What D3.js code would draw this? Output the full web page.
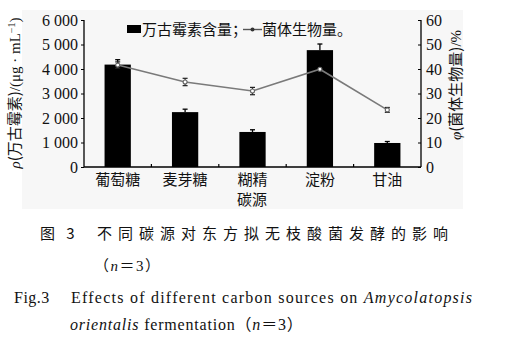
<!DOCTYPE html>
<html>
<head>
<meta charset="utf-8">
<script src="https://cdn.jsdelivr.net/npm/d3@7"></script>
<style>
  body { margin: 0; background: #fff; }
</style>
</head>
<body>
<div id="chart"></div>
<script>
// data
const categories = ["葡萄糖", "麦芽糖", "糊精", "淀粉", "甘油"];
const vancomycin = [4180, 2240, 1430, 4770, 980];      // μg/mL
const vancomycinErr = [200, 120, 90, 250, 60];
const biomass = [41.6, 34.7, 31.0, 39.9, 23.3];          // %
const biomassErr = [1.3, 1.5, 1.5, 0, 1.0];
const leftTicks = [0, 1000, 2000, 3000, 4000, 5000, 6000];
const rightTicks = [0, 10, 20, 30, 40, 50, 60];

const SERIF = "Liberation Serif, serif";
const CJK = "Noto Sans CJK SC, sans-serif";

const W = 509, H = 342;
const svg = d3.select("#chart").append("svg")
  .attr("width", W).attr("height", H);

// faint grey of the scanned plot area
svg.append("rect")
  .attr("x", 22).attr("y", 10).attr("width", 441).attr("height", 199)
  .attr("fill", "#f7f7f7");

const x0 = 84, x1 = 421, yBottom = 167, yTop = 20;

const x = d3.scaleBand().domain(categories).range([x0, x1]).padding(0);
const yL = d3.scaleLinear().domain([0, 6000]).range([yBottom, yTop]);
const yR = d3.scaleLinear().domain([0, 60]).range([yBottom, yTop]);
const fmt = d => d3.format(",")(d).replace(",", " ");

// left axis
const axL = svg.append("g")
  .attr("transform", "translate(" + x0 + ",0)")
  .call(d3.axisLeft(yL).tickValues(leftTicks).tickFormat(fmt).tickSize(3).tickPadding(3));
axL.attr("font-family", SERIF);
axL.select(".domain").attr("stroke", "#000").attr("stroke-width", 1.3)
  .attr("d", "M0," + yTop + "V" + yBottom);
axL.selectAll("text").attr("font-size", 16).attr("fill", "#111");

// right axis, ticks pointing inward
const axR = svg.append("g")
  .attr("transform", "translate(" + x1 + ",0)")
  .call(d3.axisRight(yR).tickValues(rightTicks).tickSize(0).tickPadding(5));
axR.attr("font-family", SERIF);
axR.select(".domain").attr("stroke", "#000").attr("stroke-width", 1.3)
  .attr("d", "M0," + yTop + "V" + yBottom);
axR.selectAll(".tick line").attr("x2", -3).attr("stroke", "#000");
axR.selectAll("text").attr("font-size", 16).attr("fill", "#111");

// bars
const bw = x.bandwidth() * 0.39;
svg.selectAll(".bar")
  .data(categories)
  .enter().append("rect")
  .attr("class", "bar")
  .attr("x", d => x(d) + (x.bandwidth() - bw) / 2)
  .attr("y", (d, i) => yL(vancomycin[i]))
  .attr("width", bw)
  .attr("height", (d, i) => yBottom - yL(vancomycin[i]))
  .attr("fill", "#000");

// bar error bars (upper half visible above bar)
categories.forEach((c, i) => {
  const cx = x(c) + x.bandwidth() / 2;
  const top = yL(vancomycin[i] + vancomycinErr[i]);
  svg.append("line").attr("x1", cx).attr("x2", cx)
    .attr("y1", yL(vancomycin[i])).attr("y2", top)
    .attr("stroke", "#000").attr("stroke-width", 1.3);
  svg.append("line").attr("x1", cx - 2.5).attr("x2", cx + 2.5)
    .attr("y1", top).attr("y2", top)
    .attr("stroke", "#000").attr("stroke-width", 1.3);
});

// x axis
const axX = svg.append("g")
  .attr("transform", "translate(0," + yBottom + ")")
  .call(d3.axisBottom(x).tickSize(0).tickPadding(7));
axX.attr("font-family", CJK);
axX.select(".domain").attr("stroke", "#000").attr("stroke-width", 1.3)
  .attr("d", "M" + x0 + ",0H" + x1);
axX.selectAll("text").attr("font-size", 15).attr("fill", "#111");
// boundary ticks pointing up
categories.slice(1).forEach(c => {
  svg.append("line").attr("x1", x(c)).attr("x2", x(c))
    .attr("y1", yBottom).attr("y2", yBottom - 3)
    .attr("stroke", "#000").attr("stroke-width", 1.2);
});

// biomass line
const line = d3.line()
  .x((d, i) => x(categories[i]) + x.bandwidth() / 2)
  .y(d => yR(d));
svg.append("path").datum(biomass)
  .attr("d", line).attr("fill", "none")
  .attr("stroke", "#7a7a7a").attr("stroke-width", 1.6);

categories.forEach((c, i) => {
  const cx = x(c) + x.bandwidth() / 2;
  if (biomassErr[i] > 0) {
    const a = yR(biomass[i] + biomassErr[i]), b = yR(biomass[i] - biomassErr[i]);
    svg.append("line").attr("x1", cx).attr("x2", cx).attr("y1", a).attr("y2", b)
      .attr("stroke", "#222").attr("stroke-width", 1.1);
    [a, b].forEach(yy => svg.append("line")
      .attr("x1", cx - 2.5).attr("x2", cx + 2.5).attr("y1", yy).attr("y2", yy)
      .attr("stroke", "#222").attr("stroke-width", 1.2));
  }
  svg.append("circle").attr("cx", cx).attr("cy", yR(biomass[i])).attr("r", 2)
    .attr("fill", "#fff").attr("stroke", "#666").attr("stroke-width", 1.1);
});

// legend
svg.append("rect").attr("x", 127).attr("y", 25).attr("width", 14).attr("height", 8).attr("fill", "#000");
svg.append("text").attr("x", 142).attr("y", 35).attr("font-size", 15)
  .attr("font-family", CJK).attr("fill", "#111")
  .text("万古霉素含量；");
svg.append("line").attr("x1", 243).attr("x2", 262).attr("y1", 29.5).attr("y2", 29.5)
  .attr("stroke", "#555").attr("stroke-width", 1.4);
svg.append("circle").attr("cx", 252.5).attr("cy", 29.5).attr("r", 2).attr("fill", "#333");
svg.append("text").attr("x", 262).attr("y", 35).attr("font-size", 15)
  .attr("font-family", CJK).attr("fill", "#111")
  .text("菌体生物量。");

// axis titles
const tL = svg.append("text")
  .attr("transform", "translate(20,93) rotate(-90)")
  .attr("text-anchor", "middle").attr("font-size", 15)
  .attr("font-family", SERIF).attr("fill", "#111");
tL.append("tspan").attr("font-style", "italic").text("ρ");
tL.append("tspan").attr("font-family", CJK).text("(万古霉素)");
tL.append("tspan").text("/(μg · mL");
tL.append("tspan").attr("dy", -5).attr("font-size", 10).text("−1");
tL.append("tspan").attr("dy", 5).text(")");

const tR = svg.append("text")
  .attr("transform", "translate(461,85) rotate(-90)")
  .attr("text-anchor", "middle").attr("font-size", 15)
  .attr("font-family", SERIF).attr("fill", "#111");
tR.append("tspan").attr("font-style", "italic").text("φ");
tR.append("tspan").attr("font-family", CJK).text("(菌体生物量)");
tR.append("tspan").text("/%");

svg.append("text").attr("x", 252).attr("y", 205).attr("text-anchor", "middle")
  .attr("font-size", 15).attr("font-family", CJK)
  .attr("fill", "#111").text("碳源");

// caption
svg.append("text").attr("x", 40).attr("y", 239)
  .attr("font-size", 15).attr("font-family", CJK).attr("fill", "#111")
  .attr("letter-spacing", 4).text("图 3");
svg.append("text").attr("x", 97).attr("y", 239)
  .attr("font-size", 15).attr("font-family", CJK)
  .attr("letter-spacing", 6).attr("fill", "#111")
  .text("不同碳源对东方拟无枝酸菌发酵的影响");
const c2 = svg.append("text").attr("x", 94).attr("y", 271)
  .attr("font-size", 15).attr("font-family", SERIF).attr("fill", "#111")
  .attr("letter-spacing", 1.5);
c2.append("tspan").attr("font-family", CJK).text("（");
c2.append("tspan").attr("font-style", "italic").text("n");
c2.append("tspan").attr("font-family", CJK).text("＝");
c2.append("tspan").text("3");
c2.append("tspan").attr("font-family", CJK).text("）");

svg.append("text").attr("x", 14).attr("y", 303)
  .attr("font-size", 16).attr("font-family", SERIF).attr("fill", "#111")
  .attr("letter-spacing", 0.5).text("Fig.3");
const c3 = svg.append("text").attr("x", 71).attr("y", 303)
  .attr("textLength", 401).attr("lengthAdjust", "spacing")
  .attr("font-size", 16).attr("font-family", SERIF).attr("fill", "#111");
c3.append("tspan").text("Effects of different carbon sources on ");
c3.append("tspan").attr("font-style", "italic").text("Amycolatopsis");
const c4 = svg.append("text").attr("x", 70).attr("y", 330)
  .attr("font-size", 16).attr("font-family", SERIF).attr("fill", "#111")
  .attr("letter-spacing", 0.8);
c4.append("tspan").attr("font-style", "italic").text("orientalis");
c4.append("tspan").text(" fermentation");
c4.append("tspan").attr("font-family", CJK).text("（");
c4.append("tspan").attr("font-style", "italic").text("n");
c4.append("tspan").attr("font-family", CJK).text("＝");
c4.append("tspan").text("3");
c4.append("tspan").attr("font-family", CJK).text("）");
</script>
</body>
</html>
